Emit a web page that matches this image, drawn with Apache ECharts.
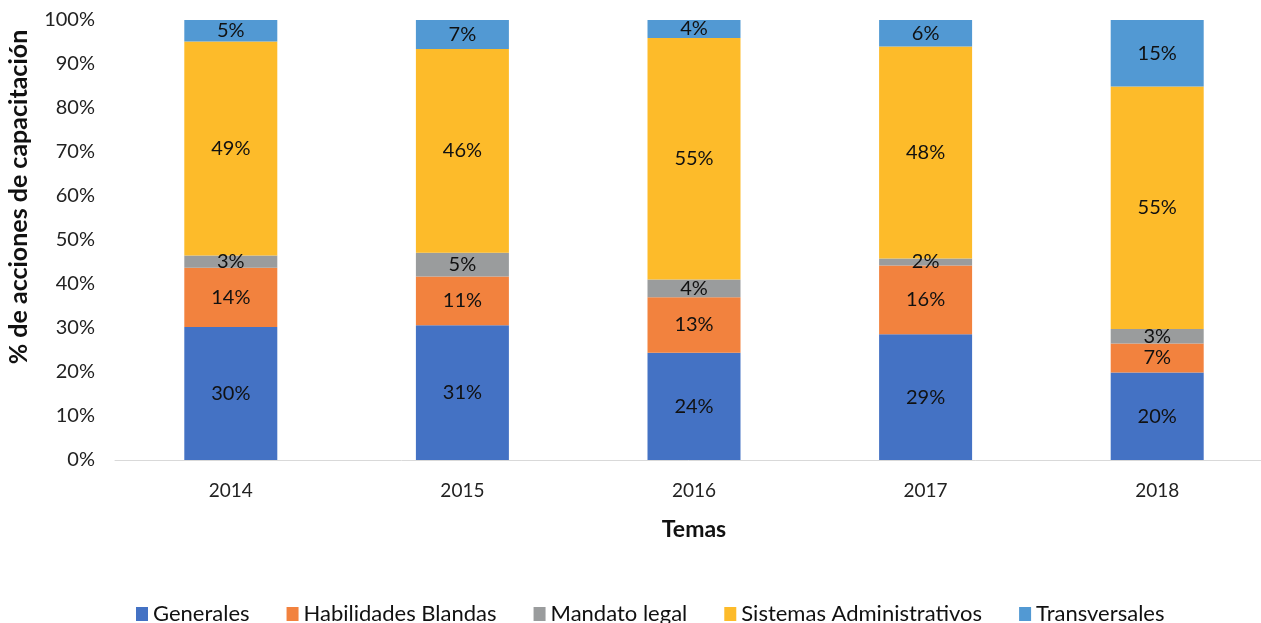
<!DOCTYPE html>
<html>
<head>
<meta charset="utf-8">
<script src="https://cdn.jsdelivr.net/npm/echarts@6/dist/echarts.min.js"></script>
<style>
  html, body { margin: 0; padding: 0; background: #fff; }
  #chart { width: 1261px; height: 623px; }
</style>
</head>
<body>
<div id="chart"></div>
<script>
// datos (porcentaje de acciones por tema)
var years = ['2014', '2015', '2016', '2017', '2018'];
var generales = [30.2, 30.6, 24.4, 28.6, 19.9];
var habilidades = [13.5, 11.1, 12.6, 15.6, 6.6];
var mandato = [2.8, 5.4, 4.0, 1.6, 3.3];
var sistemas = [48.6, 46.3, 54.9, 48.2, 55.1];
var transversales = [4.9, 6.6, 4.1, 6.0, 15.1];
var yTicks = [0, 10, 20, 30, 40, 50, 60, 70, 80, 90, 100];

var font = 'Lato, "Noto Sans", sans-serif';

function serie(name, data, color) {
  return {
    name: name,
    type: 'bar',
    stack: 'total',
    barWidth: 93,
    data: data,
    itemStyle: { color: color },
    label: {
      show: true,
      position: 'inside',
      color: '#111',
      fontSize: 20,
      fontFamily: font,
      formatter: function (p) { return Math.round(p.value) + '%'; }
    }
  };
}

var chart = echarts.init(document.getElementById('chart'));
chart.setOption({
  animation: false,
  textStyle: { fontFamily: font },
  grid: { left: 115, top: 20, width: 1158, bottom: 163, outerBoundsMode: 'none' },
  legend: {
    top: 598,
    left: 131,
    itemWidth: 12,
    itemHeight: 14,
    itemGap: 37,
    icon: 'rect',
    textStyle: { fontSize: 22, color: '#111', fontFamily: font },
    data: ['Generales', 'Habilidades Blandas', 'Mandato legal', 'Sistemas Administrativos', 'Transversales']
  },
  xAxis: {
    type: 'category',
    data: years,
    name: 'Temas',
    nameLocation: 'middle',
    nameGap: 58,
    nameTextStyle: { fontSize: 23, fontWeight: 'bold', color: '#111' },
    axisLine: { lineStyle: { color: '#D9D9D9', width: 1 } },
    axisTick: { show: false },
    axisLabel: { fontSize: 19, color: '#222', margin: 21 }
  },
  yAxis: {
    type: 'value',
    min: yTicks[0],
    max: yTicks[yTicks.length - 1],
    interval: 10,
    name: '% de acciones de capacitación',
    nameLocation: 'middle',
    nameGap: 84,
    nameTextStyle: { fontSize: 25, fontWeight: 'bold', color: '#111', padding: [0, 0, 0, 86] },
    axisLine: { show: false },
    axisTick: { show: false },
    splitLine: { show: false },
    axisLabel: { fontSize: 20, color: '#222', margin: 20, formatter: '{value}%' }
  },
  series: [
    serie('Generales', generales, '#4472C4'),
    serie('Habilidades Blandas', habilidades, '#F2823E'),
    serie('Mandato legal', mandato, '#9A9C9D'),
    serie('Sistemas Administrativos', sistemas, '#FDBB2A'),
    serie('Transversales', transversales, '#5299D3')
  ]
});
</script>
</body>
</html>
